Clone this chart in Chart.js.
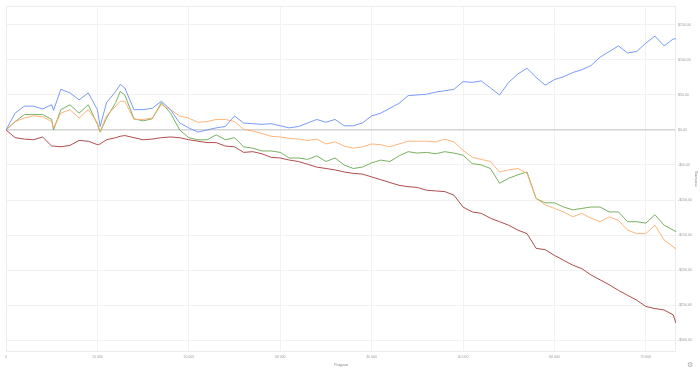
<!DOCTYPE html>
<html>
<head>
<meta charset="utf-8">
<script src="https://cdn.jsdelivr.net/npm/chart.js@4.4.0/dist/chart.umd.min.js"></script>
<style>
html,body{margin:0;padding:0;background:#fff;}
#wrap{position:relative;width:700px;height:370px;}
#icon{position:absolute;left:687px;top:361px;font:7px "DejaVu Sans",sans-serif;color:#aaa;}
</style>
</head>
<body>
<div id="wrap"><canvas id="c" width="700" height="370"></canvas><span id="icon">⚙</span></div>
<script>
// Hands (x values)
const hands = [0,1000,2000,3000,4000,5000,5200,6000,7000,8000,9000,10000,10300,11000,12000,12500,13000,14000,15000,16000,17000,18000,19000,20000,21000,22000,23000,24000,25000,26000,27000,28000,29000,30000,31000,32000,33000,34000,35000,36000,37000,38000,39000,40000,41000,42000,43000,44000,45000,46000,47000,48000,49000,50000,51000,52000,53000,54000,55000,56000,57000,58000,59000,60000,61000,62000,63000,64000,65000,66000,67000,68000,69000,70000,71000,72000,73000,73300];

const netWon = [0,24,34,34,30,36,28,58,53,43,53,29,5,39,55,65,60,29,29,31,41,29,10,3,-3,0,3,5,20,10,9,8,9,6,3,5,10,15,11,15,6,6,10,20,24,31,38,49,50,51,54,56,58,69,68,70,60,50,68,80,88,75,64,72,76,82,86,92,104,112,120,110,112,124,134,120,130,130];

const showdown = [0,12,17,20,19,12,3,24,29,17,29,10,-2,20,34,41,41,15,15,17,36,29,20,17,11,12,15,15,12,1,-1.5,-5,-9,-10,-12,-13,-15,-13,-20,-17,-23,-26,-24,-20,-21,-24,-20,-16,-16,-16,-17,-13,-17,-29,-39,-42,-45,-60,-57,-55,-62,-98,-107,-112,-117,-124,-119,-126,-131,-124,-129,-143,-148,-148,-136,-157,-167,-170];

const allInEV = [0,12,22,22,22,15,0,29,36,24,36,8,-3,17,39,55,50,16,13,16,39,24,0,-11,-14,-14,-7,-14,-11,-24,-26,-30,-30,-32,-40,-40,-42,-37,-45,-40,-50,-55,-53,-47,-43,-45,-37,-31,-33,-32,-34,-31,-33,-36,-48,-50,-55,-76,-69,-64,-60,-98,-104,-104,-110,-114,-112,-110,-110,-117,-117,-131,-131,-133,-121,-136,-143,-145];

const nonShowdown = [0,-11,-13,-14,-10,-23,-23,-24,-22,-15,-16,-21,-20,-14,-11,-9,-8,-11,-14,-13,-11,-10,-11,-14,-16,-18,-18,-23,-24,-32,-31,-34,-39,-40,-43,-45,-49,-53,-55,-57,-60,-62,-63,-67,-71,-75,-79,-81,-82,-86,-87,-88,-93,-110,-117,-119,-126,-131,-136,-143,-148,-169,-171,-179,-186,-193,-198,-207,-214,-221,-229,-236,-243,-252,-255,-257,-264,-276];

const xTicks = [0,10000,20000,30000,40000,50000,60000,70000];
const yTicks = [-300,-250,-200,-150,-100,-50,0,50,100,150];

const xTitle = "Раздачи";
const yTitle = "Выигрыш";

function pts(arr){ return arr.map((v,i)=>({x:hands[i], y:v})); }
function moneyLabel(v){ return (v<0?'-$':'$') + Math.abs(v) + ',00'; }
function handsLabel(v){ return String(v).replace(/\B(?=(\d{3})+(?!\d))/g,' '); }

const tickFont = {family:'"Liberation Sans", Arial, sans-serif', size:3.5};

const frame = {
  id:'frame',
  beforeDatasetsDraw(chart){
    const a = chart.chartArea, c = chart.ctx;
    c.save(); c.strokeStyle='#ececec'; c.lineWidth=1;
    c.strokeRect(Math.round(a.left)+0.5, Math.round(a.top)+0.5, Math.round(a.right-a.left)-1, Math.round(a.bottom-a.top)-1);
    c.restore();
  }
};

new Chart(document.getElementById('c'), {
  type:'line',
  data:{
    datasets:[
      {data:pts(netWon), borderColor:'#6b8ff7', borderWidth:0.9},
      {data:pts(showdown), borderColor:'#ffab6b', borderWidth:0.9},
      {data:pts(allInEV), borderColor:'#6aa84f', borderWidth:0.9},
      {data:pts(nonShowdown), borderColor:'#a8383a', borderWidth:0.9}
    ]
  },
  plugins:[frame],
  options:{
    responsive:false,
    animation:false,
    devicePixelRatio:1,
    elements:{point:{radius:0}, line:{tension:0}},
    layout:{padding:{left:6, top:6, right:0, bottom:3}},
    plugins:{legend:{display:false}, tooltip:{enabled:false}},
    scales:{
      x:{
        type:'linear', min:0, max:73300,
        afterBuildTicks:(s)=>{ s.ticks = xTicks.map(v=>({value:v})); },
        afterFit:(s)=>{ s.height = 15; },
        grid:{color:'#f2f2f2', lineWidth:1, drawTicks:false},
        border:{display:false},
        ticks:{autoSkip:false, maxRotation:0, padding:3, color:'#999', font:tickFont,
          callback:(v)=> handsLabel(v)},
        title:{display:true, text:xTitle, color:'#888', font:tickFont, padding:{top:1,bottom:0}}
      },
      y:{
        position:'right', min:-317, max:177,
        afterBuildTicks:(s)=>{ s.ticks = yTicks.map(v=>({value:v})); },
        afterFit:(s)=>{ s.width = 24; },
        grid:{
          color:(ctx)=> ctx.tick && ctx.tick.value===0 ? '#d4d4d4' : '#f2f2f2',
          lineWidth:(ctx)=> ctx.tick && ctx.tick.value===0 ? 1.5 : 1,
          drawTicks:false
        },
        border:{display:false},
        ticks:{autoSkip:false, padding:2, color:'#999', font:tickFont,
          callback:(v)=> moneyLabel(v)},
        title:{display:true, text:yTitle, color:'#888', font:tickFont, padding:{top:2,bottom:0}}
      }
    }
  }
});
</script>
</body>
</html>
